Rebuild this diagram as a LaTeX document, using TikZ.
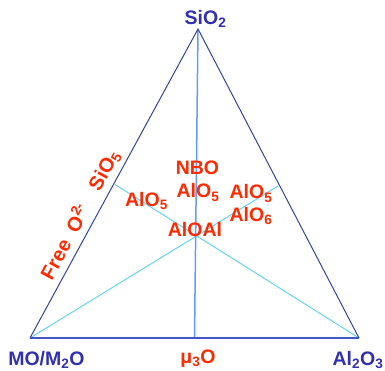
\documentclass[tikz,border=0pt]{standalone}
\usepackage{fontspec}
\setmainfont{Liberation Sans}
\definecolor{edgeblue}{HTML}{34449A}
\definecolor{baseblue}{HTML}{4455CC}
\definecolor{vertblue}{HTML}{6699FF}
\definecolor{cyanline}{HTML}{66D4EE}
\definecolor{lblblue}{HTML}{3030B0}
\definecolor{lblred}{HTML}{FF2A00}
\tikzset{
  edge/.style={draw=edgeblue, line width=1pt},
  bedge/.style={draw=baseblue, line width=1.5pt},
  vline/.style={draw=vertblue, line width=1.5pt},
  cline/.style={draw=cyanline, line width=1pt},
  blab/.style={text=lblblue, font=\fontsize{19.5}{22}\selectfont\bfseries, inner sep=0pt, anchor=base},
  rlab/.style={text=lblred, font=\fontsize{19.5}{22}\selectfont\bfseries, inner sep=0pt, anchor=base},
  rrot/.style={text=lblred, font=\fontsize{20}{22}\selectfont\bfseries, inner sep=0pt, anchor=center, rotate=61.5}
}
\begin{document}
\begin{tikzpicture}[x=1pt,y=-1pt]
\useasboundingbox (0,0) rectangle (385,371);
\coordinate (A) at (198,29);
\coordinate (B) at (30,338);
\coordinate (C) at (359,338);
\coordinate (M) at (194.5,338);
\coordinate (P) at (278,186);
\coordinate (Q) at (115,184.5);
% connectors
\draw[cline] (B) -- (P);
\draw[cline] (C) -- (Q);
\draw[vline] (A) -- (M);
\draw[edge] (B) -- (A) -- (C);
\draw[bedge] (B) -- (C);
% corner labels
\node[blab] (sio2) at (205.5,24.5) {SiO\textsubscript{2}};
\node[blab] (mo) at (46.5,365) {MO/M\textsubscript{2}O};
\node[blab] (al2o3) at (358,365) {Al\textsubscript{2}O\textsubscript{3}};
\node[rlab] (mu) at (198,363) {μ\textsubscript{3}O};
% interior labels
\node[rlab] (nbo) at (197.5,175) {NBO};
\node[rlab] (alo5m) at (198,198) {AlO\textsubscript{5}};
\node[rlab] (alo5l) at (146.5,206.5) {AlO\textsubscript{5}};
\node[rlab] (alo5r) at (251,199) {AlO\textsubscript{5}};
\node[rlab] (alo6) at (251,221.5) {AlO\textsubscript{6}};
\node[rlab] (aloal) at (195,236.5) {AlOAl};
% rotated labels
\node[rrot] (free) at (64,241) {Free\ \ O\textsuperscript{2-}};
\node[rrot] (sio5) at (105,171) {SiO\textsubscript{5}};
\end{tikzpicture}
\end{document}
